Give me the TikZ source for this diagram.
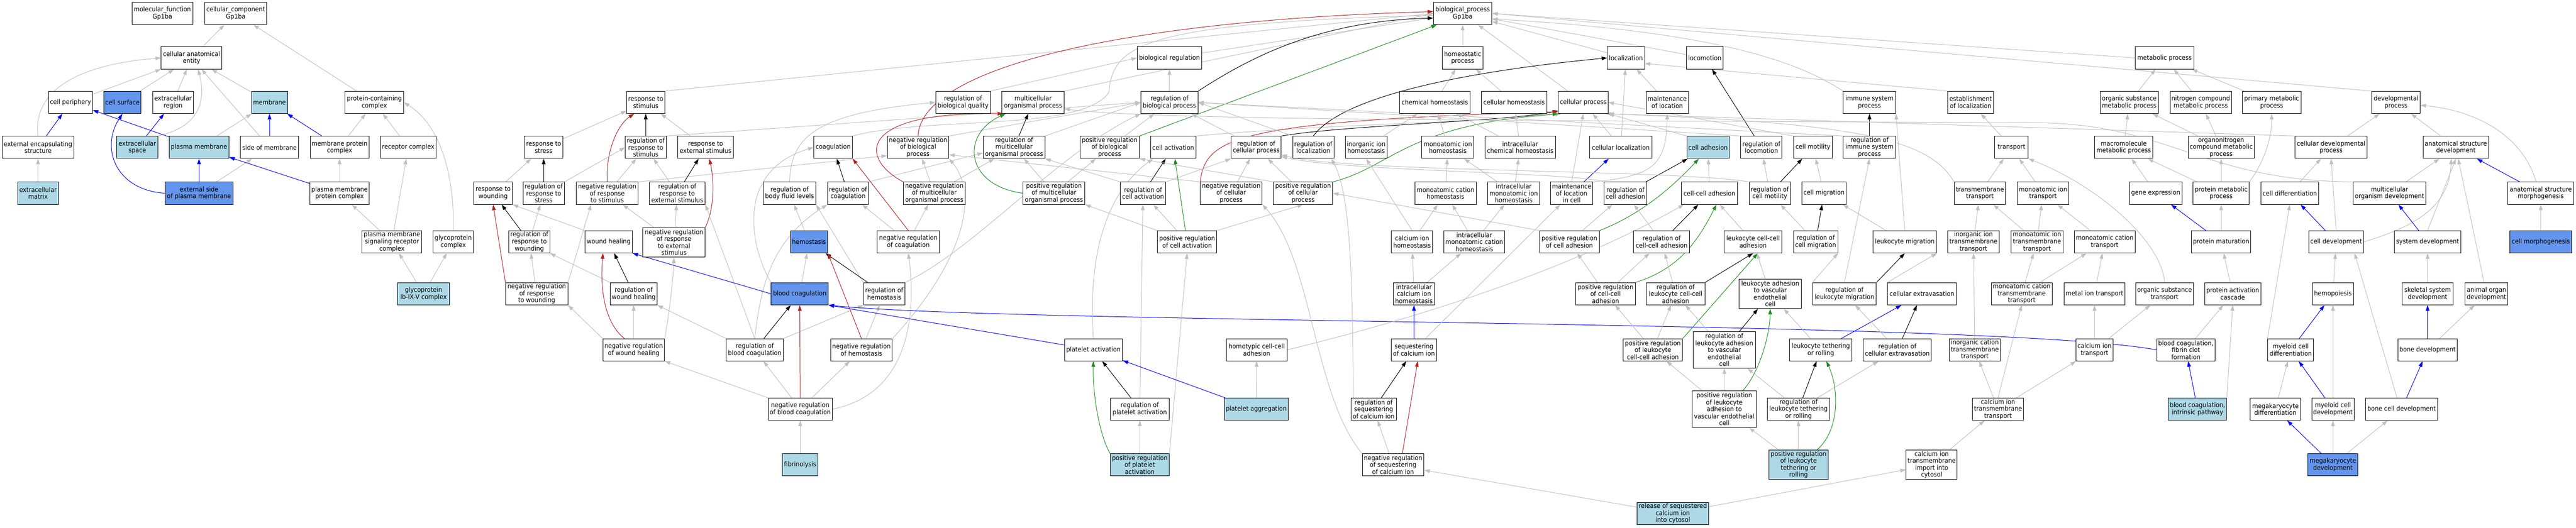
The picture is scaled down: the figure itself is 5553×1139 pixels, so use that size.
\documentclass[tikz,border=0pt]{standalone}
\usepackage{fontspec}
\setmainfont[FakeStretch=0.92]{DejaVu Sans}
\usetikzlibrary{arrows.meta}
\definecolor{edgegray}{RGB}{192,192,192}
\definecolor{edgeblue}{RGB}{0,0,255}
\definecolor{firebrick}{RGB}{178,34,34}
\definecolor{forestgreen}{RGB}{34,139,34}
\definecolor{lightblue}{RGB}{173,216,230}
\definecolor{cornflower}{RGB}{100,149,237}
\pgfdeclarelayer{bgfill}
\pgfdeclarelayer{edges}
\pgfsetlayers{bgfill,edges,main}
\tikzset{
  gw/.style={draw=black, line width=1.1pt, fill=white, align=center, inner xsep=3pt, inner ysep=1pt, minimum height=48pt, font=\fontsize{14}{15}\selectfont},
  gl/.style={gw, fill=lightblue},
  gd/.style={gw, fill=cornflower},
  hf/.style={minimum height=64pt},
  hv/.style={minimum height=79pt},
  arw/.style={-{Triangle[length=12pt,width=8pt]}, line width=1.1pt},
  egray/.style={arw, color=edgegray},
  eblue/.style={arw, color=edgeblue},
  eblack/.style={arw, color=black},
  ered/.style={arw, color=firebrick},
  egreen/.style={arw, color=forestgreen},
}
\newcommand{\gn}[6]{\node[#1,minimum width=#5pt] (#2) at (#3,#4) {#6};}
\newcommand{\ed}[3]{\draw[#1] (#2) -- (#3);}
\begin{document}
\begin{tikzpicture}[x=1pt,y=-1pt]
\useasboundingbox (0,0) rectangle (5553,1139);
\begin{pgfonlayer}{bgfill}
\fill[white] (0,0) rectangle (5553,1139);
\end{pgfonlayer}
% ---------- nodes: cellular component ----------
\gn{gw}{mf}{350}{29}{131}{molecular\_function\\Gp1ba}
\gn{gw}{cc}{508}{29}{134}{cellular\_component\\Gp1ba}
\gn{gw}{bp}{3153}{29}{126}{biological\_process\\Gp1ba}
\gn{gw}{cae}{413}{125}{131}{cellular anatomical\\entity}
\gn{gw}{cper}{152}{221}{95}{cell periphery}
\gn{gd}{csurf}{264}{221}{80}{cell surface}
\gn{gw}{exreg}{373}{221}{88}{extracellular\\region}
\gn{gl}{memb}{581}{221}{78}{membrane}
\gn{gw}{pcc}{807}{221}{126}{protein-containing\\complex}
\gn{gw}{ees}{82}{318}{155}{external encapsulating\\structure}
\gn{gl}{exsp}{296}{318}{88}{extracellular\\space}
\gn{gl}{pm}{429}{318}{129}{plasma membrane}
\gn{gw}{som}{581}{318}{126}{side of membrane}
\gn{gw}{mpc}{732}{318}{126}{membrane protein\\complex}
\gn{gw}{recc}{880}{318}{120}{receptor complex}
\gn{gl}{exm}{82}{417}{88}{extracellular\\matrix}
\gn{gd}{espm}{429}{417}{147}{external side\\of plasma membrane}
\gn{gw}{pmpc}{732}{417}{128}{plasma membrane\\protein complex}
\gn{gw}{pmsrc}{845}{522}{129}{plasma membrane\\signaling receptor\\complex}
\gn{gw}{gpc}{977}{522}{86}{glycoprotein\\complex}
\gn{gl}{gp1b}{913}{634}{112}{glycoprotein\\Ib-IX-V complex}
% ---------- response / coagulation ----------
\gn{gw}{rstim}{1392}{221}{82}{response to\\stimulus}
\gn{gw}{rstress}{1172}{318}{83}{response to\\stress}
\gn{gw}{rrs}{1392}{318}{88}{regulation of\\response to\\stimulus}
\gn{gw}{rext}{1521}{318}{120}{response to\\external stimulus}
\gn{gw}{coag}{1796}{318}{83}{coagulation}
\gn{gw}{rwound}{1063}{417}{83}{response to\\wounding}
\gn{gw}{rrstress}{1172}{417}{89}{regulation of\\response to\\stress}
\gn{gw}{nrrs}{1309}{417}{134}{negative regulation\\of response\\to stimulus}
\gn{gw}{rrext}{1460}{417}{120}{regulation of\\response to\\external stimulus}
\gn{gw}{rbfl}{1702}{417}{113}{regulation of\\body fluid levels}
\gn{gw}{rcoag}{1828}{417}{88}{regulation of\\coagulation}
\gn{gw}{rrw}{1141}{522}{88}{regulation of\\response to\\wounding}
\gn{gw}{wh}{1312}{522}{102}{wound healing}
\gn{gw,hf}{nrrext}{1453}{523}{134}{negative regulation\\of response\\to external\\stimulus}
\gn{gd}{hemo}{1744}{522}{80}{hemostasis}
\gn{gw}{nrrw}{1157}{634}{134}{negative regulation\\of response\\to wounding}
\gn{gw}{rwh}{1366}{634}{101}{regulation of\\wound healing}
\gn{gd}{bc}{1724}{634}{123}{blood coagulation}
\gn{gw}{rhemo}{1906}{634}{89}{regulation of\\hemostasis}
\gn{gw}{nrwh}{1366}{755}{133}{negative regulation\\of wound healing}
\gn{gw}{rbc}{1627}{755}{123}{regulation of\\blood coagulation}
\gn{gw}{nrhemo}{1857}{755}{133}{negative regulation\\of hemostasis}
\gn{gw}{nrbc}{1725}{883}{138}{negative regulation\\of blood coagulation}
\gn{gl}{fib}{1725}{1003}{77}{fibrinolysis}
% ---------- regulation ----------
\gn{gw}{breg}{2521}{125}{139}{biological regulation}
\gn{gw}{rbq}{2076}{221}{118}{regulation of\\biological quality}
\gn{gw}{mop}{2227}{221}{134}{multicellular\\organismal process}
\gn{gw}{rbp}{2521}{221}{123}{regulation of\\biological process}
\gn{gw}{nrbp}{1979}{318}{133}{negative regulation\\of biological\\process}
\gn{gw}{rmop}{2186}{318}{133}{regulation of\\multicellular\\organismal process}
\gn{gw}{prbp}{2392}{318}{128}{positive regulation\\of biological\\process}
\gn{gw}{cact}{2529}{318}{98}{cell activation}
\gn{gw}{rcp}{2708}{318}{108}{regulation of\\cellular process}
\gn{gw}{nrmop}{2014}{417}{133}{negative regulation\\of multicellular\\organismal process}
\gn{gw}{prmop}{2272}{417}{133}{positive regulation\\of multicellular\\organismal process}
\gn{gw}{rca}{2464}{417}{98}{regulation of\\cell activation}
\gn{gw}{nrcp}{2654}{417}{133}{negative regulation\\of cellular\\process}
\gn{gw}{prcp}{2809}{417}{128}{positive regulation\\of cellular\\process}
\gn{gw}{ncoag}{1958}{522}{135}{negative regulation\\of coagulation}
\gn{gw}{prca}{2559}{522}{128}{positive regulation\\of cell activation}
\gn{gw}{pact}{2357}{755}{125}{platelet activation}
\gn{gw}{hcca}{2709}{755}{131}{homotypic cell-cell\\adhesion}
\gn{gw}{rpa}{2457}{883}{126}{regulation of\\platelet activation}
\gn{gl}{pagg}{2708}{883}{138}{platelet aggregation}
\gn{gl}{prpa}{2457}{1003}{127}{positive regulation\\of platelet\\activation}
% ---------- homeostasis / localization / adhesion ----------
\gn{gw}{homeo}{3153}{125}{87}{homeostatic\\process}
\gn{gw}{loc}{3505}{125}{80}{localization}
\gn{gw}{locom}{3675}{125}{78}{locomotion}
\gn{gw}{chh}{3093}{221}{152}{chemical homeostasis}
\gn{gw}{celh}{3264}{221}{141}{cellular homeostasis}
\gn{gw}{cproc}{3413}{221}{107}{cellular process}
\gn{gw}{mol}{3594}{221}{91}{maintenance\\of location}
\gn{gw}{rloc}{2831}{318}{89}{regulation of\\localization}
\gn{gw}{iih}{2945}{318}{90}{inorganic ion\\homeostasis}
\gn{gw}{mih}{3121}{318}{112}{monoatomic ion\\homeostasis}
\gn{gw}{ich}{3277}{318}{152}{intracellular\\chemical homeostasis}
\gn{gw}{cloc}{3494}{318}{134}{cellular localization}
\gn{gl}{cadh}{3682}{318}{91}{cell adhesion}
\gn{gw}{mch}{3116}{417}{132}{monoatomic cation\\homeostasis}
\gn{gw}{imih}{3263}{417}{112}{intracellular\\monoatomic ion\\homeostasis}
\gn{gw}{mlic}{3388}{417}{90}{maintenance\\of location\\in cell}
\gn{gw}{rcadh}{3504}{417}{92}{regulation of\\cell adhesion}
\gn{gw}{cca}{3685}{417}{121}{cell-cell adhesion}
\gn{gw}{cah}{3044}{522}{89}{calcium ion\\homeostasis}
\gn{gw}{imch}{3178}{522}{132}{intracellular\\monoatomic cation\\homeostasis}
\gn{gw}{prcadh}{3383}{522}{129}{positive regulation\\of cell adhesion}
\gn{gw}{rcca}{3582}{522}{121}{regulation of\\cell-cell adhesion}
\gn{gw}{icah}{3048}{634}{89}{intracellular\\calcium ion\\homeostasis}
\gn{gw}{prcca}{3461}{634}{128}{positive regulation\\of cell-cell\\adhesion}
\gn{gw}{rlcca}{3612}{634}{126}{regulation of\\leukocyte cell-cell\\adhesion}
\gn{gw}{seq}{3048}{755}{98}{sequestering\\of calcium ion}
\gn{gw}{prlcca}{3563}{755}{128}{positive regulation\\of leukocyte\\cell-cell adhesion}
\gn{gw,hv}{rlavec}{3717}{755}{134}{regulation of\\leukocyte adhesion\\to vascular\\endothelial\\cell}
\gn{gw}{rsci}{2961}{883}{98}{regulation of\\sequestering\\of calcium ion}
\gn{gw,hv}{prlavec}{3717}{883}{139}{positive regulation\\of leukocyte\\adhesion to\\vascular endothelial\\cell}
\gn{gw}{nrsci}{3003}{1003}{133}{negative regulation\\of sequestering\\of calcium ion}
\gn{gl}{rscic}{3606}{1108}{155}{release of sequestered\\calcium ion\\into cytosol}
% ---------- immune / transport / metabolism ----------
\gn{gw}{metab}{4666}{125}{126}{metabolic process}
\gn{gw}{isp}{4030}{221}{113}{immune system\\process}
\gn{gw}{eloc}{4248}{221}{99}{establishment\\of localization}
\gn{gw}{osmp}{4590}{221}{126}{organic substance\\metabolic process}
\gn{gw}{rloco}{3797}{318}{89}{regulation of\\locomotion}
\gn{gw}{cmot}{3908}{318}{84}{cell motility}
\gn{gw}{risp}{4030}{318}{113}{regulation of\\immune system\\process}
\gn{gw}{transp}{4336}{318}{72}{transport}
\gn{gw}{mmp}{4578}{318}{125}{macromolecule\\metabolic process}
\gn{gw}{rcm}{3815}{417}{89}{regulation of\\cell motility}
\gn{gw}{cmig}{3932}{417}{96}{cell migration}
\gn{gw}{tmt}{4268}{417}{111}{transmembrane\\transport}
\gn{gw}{mit}{4404}{417}{112}{monoatomic ion\\transport}
\gn{gw}{gexp}{4647}{417}{113}{gene expression}
\gn{gw}{lcca}{3779}{522}{125}{leukocyte cell-cell\\adhesion}
\gn{gw}{rcmig}{3914}{522}{95}{regulation of\\cell migration}
\gn{gw}{lmig}{4106}{522}{137}{leukocyte migration}
\gn{gw}{iitt}{4254}{522}{111}{inorganic ion\\transmembrane\\transport}
\gn{gw}{mitt}{4391}{522}{112}{monoatomic ion\\transmembrane\\transport}
\gn{gw}{mct}{4537}{522}{131}{monoatomic cation\\transport}
\gn{gw,hf}{lavec}{3816}{634}{134}{leukocyte adhesion\\to vascular\\endothelial\\cell}
\gn{gw}{rlm}{3976}{634}{137}{regulation of\\leukocyte migration}
\gn{gw}{cext}{4143}{634}{148}{cellular extravasation}
\gn{gw}{mctt}{4358}{634}{131}{monoatomic cation\\transmembrane\\transport}
\gn{gw}{mitr}{4515}{634}{130}{metal ion transport}
\gn{gw}{ost}{4666}{634}{125}{organic substance\\transport}
\gn{gw}{ltr}{3925}{755}{134}{leukocyte tethering\\or rolling}
\gn{gw}{rce}{4090}{755}{147}{regulation of\\cellular extravasation}
\gn{gw}{icatt}{4257}{755}{110}{inorganic cation\\transmembrane\\transport}
\gn{gw}{cait}{4515}{755}{80}{calcium ion\\transport}
\gn{gw}{rltr}{3877}{883}{134}{regulation of\\leukocyte tethering\\or rolling}
\gn{gw}{catt}{4307}{883}{110}{calcium ion\\transmembrane\\transport}
\gn{gl,hf}{prltr}{3877}{1003}{128}{positive regulation\\of leukocyte\\tethering or\\rolling}
\gn{gw,hf}{citic}{4164}{1003}{110}{calcium ion\\transmembrane\\import into\\cytosol}
% ---------- development ----------
\gn{gw}{ncmp}{4744}{221}{132}{nitrogen compound\\metabolic process}
\gn{gw}{pmp}{4897}{221}{126}{primary metabolic\\process}
\gn{gw}{devp}{5165}{221}{104}{developmental\\process}
\gn{gw}{onmp}{4788}{318}{142}{organonitrogen\\compound metabolic\\process}
\gn{gw}{cdp}{5025}{318}{156}{cellular developmental\\process}
\gn{gw}{asd}{5294}{318}{141}{anatomical structure\\development}
\gn{gw}{protmp}{4788}{417}{121}{protein metabolic\\process}
\gn{gw}{cdiff}{4936}{417}{125}{cell differentiation}
\gn{gw}{mod}{5151}{417}{157}{multicellular\\organism development}
\gn{gw}{asm}{5477}{417}{142}{anatomical structure\\morphogenesis}
\gn{gw}{pmat}{4788}{522}{128}{protein maturation}
\gn{gw}{cdev}{5036}{522}{118}{cell development}
\gn{gw}{sysd}{5233}{522}{144}{system development}
\gn{gd}{cmorph}{5477}{522}{133}{cell morphogenesis}
\gn{gw}{pac}{4813}{634}{121}{protein activation\\cascade}
\gn{gw}{hemop}{5029}{634}{89}{hemopoiesis}
\gn{gw}{ssd}{5233}{634}{110}{skeletal system\\development}
\gn{gw}{aod}{5360}{634}{92}{animal organ\\development}
\gn{gw}{bcfcf}{4712}{755}{126}{blood coagulation,\\fibrin clot\\formation}
\gn{gw}{mcd}{4938}{755}{99}{myeloid cell\\differentiation}
\gn{gw}{bdev}{5233}{755}{128}{bone development}
\gn{gl}{bcip}{4737}{883}{125}{blood coagulation,\\intrinsic pathway}
\gn{gw}{mkd}{4905}{883}{108}{megakaryocyte\\differentiation}
\gn{gw}{mcdev}{5029}{883}{91}{myeloid cell\\development}
\gn{gw}{bcd}{5177}{883}{155}{bone cell development}
\gn{gd}{mkdev}{5029}{1003}{108}{megakaryocyte\\development}

\begin{pgfonlayer}{edges}
% ---- cellular component ----
\ed{egray}{cae}{cc}
\ed{egray}{pcc}{cc}
\ed{egray}{cper}{cae}
\ed{egray}{csurf}{cae}
\ed{egray}{exreg}{cae}
\ed{egray}{memb}{cae}
\draw[egray] (ees.north) .. controls (70,200) and (160,140) .. (cae.west);
\draw[egray] (exsp.north east) .. controls (445,270) and (440,200) .. ([xshift=14pt]cae.south);
\ed{egray}{som}{cae}
\ed{eblue}{ees}{cper}
\ed{eblue}{exsp}{exreg}
\ed{eblue}{pm}{cper}
\ed{egray}{pm}{memb}
\ed{eblue}{som}{memb}
\ed{eblue}{mpc}{memb}
\ed{egray}{mpc}{pcc}
\ed{egray}{recc}{pcc}
\ed{egray}{exm}{ees}
\draw[eblue] (espm.west) .. controls (250,410) and (215,320) .. (csurf.south);
\ed{eblue}{espm}{pm}
\ed{egray}{espm}{som}
\ed{eblue}{pmpc}{pm}
\ed{egray}{pmpc}{mpc}
\ed{egray}{pmsrc}{pmpc}
\ed{egray}{pmsrc}{recc}
\ed{egray}{gp1b}{pmsrc}
\ed{egray}{gp1b}{gpc}
\draw[egray] (gpc.north) .. controls (980,380) and (950,270) .. (pcc.east);
% ---- top of biological process ----
\ed{egray}{breg}{bp}
\ed{egray}{homeo}{bp}
\ed{egray}{loc}{bp}
\ed{egray}{locom}{bp}
\ed{egray}{metab.west}{bp.east}
\ed{egray}{rstim.north east}{bp.west}
\ed{egray}{mop.north east}{bp.west}
\ed{egray}{cproc}{bp}
\ed{egray}{devp.north west}{bp.east}
\draw[egray] (isp.north west) .. controls (3900,150) and (3750,70) .. ([yshift=-12pt]bp.east);
\draw[egray] (coag.north east) .. controls (2000,250) and (2330,285) .. (2390,200) .. controls (2400,100) and (2450,50) .. ([yshift=-4pt]bp.west);
\draw[eblack] (rbp.north east) .. controls (2700,120) and (2850,45) .. ([yshift=-10pt]bp.west);
\ed{egreen}{prbp.north east}{[xshift=8pt]bp.south west}
\draw[ered] (nrbp.north) .. controls (1985,150) and (2400,45) .. ([yshift=4pt]bp.west);
% ---- response / wound / coagulation ----
\ed{egray}{rstress}{rstim}
\ed{eblack}{rrs}{rstim}
\draw[ered] (nrrs.north) .. controls (1305,330) and (1330,270) .. ([xshift=-25pt]rstim.south);
\ed{egray}{rext}{rstim}
\ed{egray}{rrs.north east}{rbp.west}
\ed{egray}{rwound}{rstress}
\ed{eblack}{rrstress}{rstress}
\ed{egray}{rrstress.north east}{rrs.west}
\ed{egray}{nrrs}{rrs}
\ed{egray}{nrrs.north east}{[yshift=-18pt]nrbp.west}
\ed{egray}{rrext}{rrs}
\ed{eblack}{rrext}{rext}
\ed{egray}{nrrext}{rrext}
\ed{egray}{nrrext}{nrrs}
\draw[ered] (nrrext.north east) .. controls (1540,450) and (1540,390) .. ([xshift=8pt]rext.south);
\ed{eblack}{rrw}{rwound}
\ed{egray}{rrw}{rrstress}
\ed{egray}{wh.north west}{rwound.south east}
\ed{ered}{nrrw.north west}{rwound.south}
\ed{egray}{nrrw}{rrw}
\ed{egray}{nrrw.north east}{[xshift=-35pt]nrrs.south}
\ed{egray}{rwh.north west}{rrw.south east}
\ed{eblack}{rwh}{wh}
\ed{egray}{nrwh}{rwh}
\ed{egray}{nrwh.north west}{nrrw.south east}
\draw[egray] (nrwh.north east) .. controls (1440,690) and (1450,620) .. (nrrext.south);
\draw[ered] ([xshift=-20pt]nrwh.north) .. controls (1295,690) and (1295,600) .. ([xshift=-12pt]wh.south);
\ed{egray}{hemo}{rbfl}
\ed{egray}{bc}{hemo}
\draw[egray] (bc.north west) .. controls (1620,540) and (1580,370) .. (coag.west);
\draw[egray] (rbfl.north) .. controls (1705,300) and (1750,245) .. (rbq.west);
\draw[egray] (rbc.north) .. controls (1640,620) and (1660,520) .. (rcoag.south west);
\ed{egray}{rbc.north east}{rhemo.south west}
\ed{egray}{rbc.north west}{rwh.south east}
\ed{egray}{rbc.north}{rrext.south east}
\ed{eblack}{rbc}{bc}
\ed{egray}{nrbc}{rbc}
\ed{egray}{nrbc}{nrhemo}
\ed{egray}{nrbc.north west}{nrwh.south east}
\draw[egray] (nrbc.east) .. controls (1960,850) and (1975,680) .. (ncoag.south);
\ed{ered}{nrbc.north}{bc.south}
\ed{egray}{fib}{nrbc}
\ed{egray}{rhemo.north west}{rbfl.south east}
\draw[egray] (rhemo.north east) .. controls (2100,540) and (2280,330) .. (rbp.south west);
\ed{eblack}{rhemo}{hemo}
\ed{egray}{nrhemo}{rhemo}
\ed{ered}{nrhemo.north}{hemo.south east}
\draw[egray] (nrhemo.north east) .. controls (2080,560) and (2110,420) .. (nrbp.south east);
\ed{eblack}{rcoag}{coag}
\ed{egray}{rcoag.north east}{[yshift=-12pt]rmop.west}
\ed{egray}{ncoag}{rcoag}
\ed{egray}{ncoag}{nrmop}
\ed{ered}{ncoag.north}{coag.south east}
\ed{eblue}{bc.west}{wh.south east}
\ed{eblue}{pact}{bc.south east}
\draw[eblue] (bcfcf.west) .. controls (4300,690) and (2200,700) .. (bc.south east);
% ---- regulation block ----
\ed{egray}{rbq.north east}{breg.west}
\ed{egray}{rbp}{breg}
\ed{egray}{nrbp.north east}{rbp.west}
\ed{egray}{rmop.north east}{rbp.west}
\ed{egray}{prbp}{rbp}
\ed{egray}{rcp}{rbp}
\ed{eblack}{rmop}{mop}
\draw[ered] (nrmop.north west) .. controls (1850,340) and (1850,240) .. ([xshift=3pt]mop.south west);
\draw[egreen] (prmop.west) .. controls (2080,400) and (2070,290) .. ([xshift=8pt]mop.south west);
\ed{egray}{nrmop}{nrbp}
\ed{egray}{nrmop}{rmop}
\ed{egray}{prmop}{rmop}
\ed{egray}{prmop}{prbp}
\draw[egray] (cact.north east) .. controls (2900,265) and (3200,265) .. ([xshift=6pt]cproc.south west);
\draw[eblack] (rcp.north east) .. controls (2900,270) and (3250,262) .. ([yshift=-18pt]cproc.west);
\draw[ered] (nrcp.north west) .. controls (2600,300) and (2650,262) .. ([yshift=-20pt]cproc.west);
\draw[egreen] (prcp.north east) .. controls (3000,360) and (3030,270) .. (cproc.south west);
\ed{egray}{rca.north east}{rcp.south west}
\ed{eblack}{rca}{cact}
\ed{egray}{rca.north west}{rmop.south east}
\ed{egray}{nrcp.north west}{[yshift=-16pt]nrbp.east}
\ed{egray}{nrcp}{rcp}
\ed{egray}{prcp.north west}{prbp.south east}
\ed{egray}{prcp}{rcp}
\ed{egray}{prca}{rca}
\ed{egray}{prca.north east}{prcp.south}
\ed{egreen}{prca}{cact}
\ed{egray}{prca.north west}{prmop.south east}
\draw[egray] (pact.north) .. controls (2345,560) and (2380,420) .. ([xshift=6pt]cact.south west);
\ed{egray}{rpa}{rca}
\ed{eblack}{rpa}{pact}
\ed{egray}{prpa}{rpa}
\draw[egreen] (prpa.north west) .. controls (2370,940) and (2355,850) .. (pact.south);
\ed{egray}{prpa.north east}{prca.south}
\ed{eblue}{pagg}{pact}
\ed{egray}{pagg}{hcca}
\draw[egray] (hcca.east) .. controls (3000,700) and (3350,600) .. ([xshift=6pt]cca.south west);
% ---- homeostasis / localization / adhesion ----
\ed{egray}{chh}{homeo}
\ed{egray}{celh}{homeo}
\draw[eblack] (rloc.north) .. controls (2900,200) and (3200,150) .. (loc.west);
\ed{egray}{rloc.north west}{rbp.east}
\ed{egray}{iih}{chh}
\ed{egray}{mih}{chh}
\ed{egray}{ich}{chh}
\ed{egray}{ich}{celh}
\ed{egray}{cloc}{cproc}
\ed{egray}{cloc}{loc}
\ed{egray}{mol}{loc}
\draw[egray] (mlic.north east) .. controls (3560,380) and (3592,360) .. (mol.south);
\ed{egray}{mlic.north}{cproc.south}
\ed{eblue}{mlic}{cloc}
\ed{egray}{cadh.north west}{cproc.south east}
\draw[egray] (rcadh.north west) .. controls (3400,372) and (2900,370) .. ([yshift=-20pt]rcp.east);
\ed{eblack}{rcadh}{cadh}
\ed{egray}{prcadh}{rcadh}
\draw[egreen] (prcadh.north east) .. controls (3520,470) and (3590,420) .. ([xshift=-20pt]cadh.south);
\ed{egray}{prcadh.north west}{prcp.east}
\ed{egray}{cca}{cadh}
\ed{egray}{rcca}{rcadh}
\ed{eblack}{rcca}{cca}
\ed{egray}{mch}{mih}
\ed{egray}{imih}{mih}
\ed{egray}{imih}{ich}
\ed{egray}{cah}{mch}
\ed{egray}{cah.north}{iih.south}
\ed{egray}{imch}{mch}
\ed{egray}{imch}{imih}
\ed{egray}{icah}{cah}
\ed{egray}{icah}{imch}
\ed{eblue}{seq}{icah}
\ed{egray}{seq}{mlic}
\draw[egray] ([xshift=6pt]rsci.north west) .. controls (2915,600) and (2912,420) .. ([xshift=-6pt]rloc.south east);
\ed{eblack}{rsci}{seq}
\ed{egray}{nrsci}{rsci}
\ed{ered}{[xshift=20pt]nrsci.north}{[xshift=8pt]seq.south}
\draw[egray] (nrsci.north west) .. controls (2830,850) and (2830,560) .. (nrcp.south east);
\ed{egray}{rscic}{nrsci}
\ed{egray}{rscic}{citic}
\ed{egray}{prcca}{prcadh}
\ed{egray}{prcca}{rcca}
\draw[egreen] (prcca.north east) .. controls (3620,580) and (3660,520) .. ([xshift=15pt]cca.south);
\ed{egray}{rlcca}{rcca}
\ed{eblack}{rlcca.north east}{lcca.south}
\ed{egray}{prlcca}{prcca}
\ed{egray}{prlcca}{rlcca}
\ed{egreen}{prlcca.north east}{[xshift=10pt]lcca.south}
\ed{egray}{rlavec}{rlcca}
\ed{eblack}{rlavec}{lavec}
\ed{egray}{prlavec}{rlavec}
\draw[egreen] ([xshift=40pt]prlavec.north) .. controls (3795,800) and (3815,720) .. (lavec.south);
\ed{egray}{prlavec}{prlcca}
\ed{egray}{lcca}{cca}
\ed{egray}{lavec}{lcca}
% ---- immune / transport / metabolism ----
\ed{egray}{eloc.north west}{[yshift=-12pt]loc.east}
\ed{eblack}{rloco}{locom}
\ed{egray}{rloco.north west}{rbp.east}
\ed{egray}{cmot.north west}{cproc.east}
\ed{eblack}{risp}{isp}
\ed{egray}{risp.north west}{rbp.east}
\ed{egray}{rcm}{rloco}
\ed{eblack}{rcm}{cmot}
\draw[egray] (rcm.north west) .. controls (3600,365) and (2900,372) .. ([yshift=-16pt]rcp.east);
\ed{egray}{cmig}{cmot}
\ed{egray}{rcmig}{rcm}
\ed{eblack}{rcmig}{cmig}
\ed{egray}{lmig}{cmig}
\ed{egray}{lmig.north}{isp.south east}
\ed{egray}{transp}{eloc}
\ed{egray}{tmt}{transp}
\draw[egray] (tmt.north west) .. controls (4160,300) and (4000,265) .. ([xshift=-6pt]cproc.south east);
\ed{egray}{mit}{transp}
\ed{egray}{iitt}{tmt}
\ed{egray}{mitt}{tmt}
\ed{egray}{mitt}{mit}
\ed{egray}{mct}{mit}
\ed{egray}{osmp}{metab}
\ed{egray}{mmp}{osmp}
\ed{egray}{gexp}{mmp}
\draw[egray] (ost.north) .. controls (4660,520) and (4520,400) .. (transp.south east);
\ed{egray}{rlm.north west}{rcmig.south east}
\ed{egray}{rlm.north}{risp.south}
\ed{eblack}{rlm.north east}{lmig.south}
\ed{egray}{cext.north west}{lmig.south east}
\ed{eblue}{ltr}{cext}
\ed{egray}{ltr}{lavec}
\ed{egray}{rce}{rlm}
\ed{eblack}{rce}{cext}
\ed{eblack}{rltr}{ltr}
\ed{egray}{rltr}{rce}
\ed{egray}{rltr}{rlavec}
\ed{egray}{prltr}{rltr}
\ed{egray}{prltr}{prlavec}
\draw[egreen] ([xshift=40pt]prltr.north) .. controls (3965,930) and (3965,840) .. ([xshift=12pt]ltr.south);
\ed{egray}{mctt}{mitt}
\ed{egray}{mctt}{mct}
\ed{egray}{mitr}{mct}
\ed{egray}{icatt}{iitt}
\ed{egray}{cait}{mitr}
\ed{egray}{cait}{ost}
\ed{egray}{catt}{icatt}
\ed{egray}{catt.north}{mctt.south}
\ed{egray}{catt}{cait}
\ed{egray}{citic}{catt}
% ---- development ----
\ed{egray}{ncmp}{metab}
\ed{egray}{pmp}{metab}
\ed{egray}{onmp}{ncmp}
\ed{egray}{onmp}{osmp}
\ed{egray}{protmp}{onmp}
\ed{egray}{protmp}{mmp}
\draw[egray] (protmp.north east) .. controls (4880,350) and (4897,300) .. (pmp.south);
\ed{egray}{pmat}{protmp}
\ed{eblue}{pmat}{gexp}
\ed{egray}{cdp}{devp}
\ed{egray}{cdp.north west}{cproc.south east}
\ed{egray}{asd}{devp}
\ed{egray}{cdiff}{cdp}
\ed{egray}{mod}{asd}
\draw[egray] (mod.north west) .. controls (4750,390) and (4680,270) .. (4400,265) .. controls (3500,260) and (2500,262) .. ([yshift=-14pt]mop.east);
\ed{eblue}{asm}{asd}
\draw[egray] ([xshift=-10pt]asm.north) .. controls (5440,300) and (5350,240) .. ([yshift=-6pt]devp.east);
\ed{eblue}{cdev}{cdiff}
\ed{egray}{cdev.north}{cdp.south}
\draw[egray] (cdev.east) .. controls (5200,490) and (5280,450) .. ([xshift=-10pt]asd.south);
\ed{eblue}{sysd}{mod}
\ed{egray}{sysd.north}{asd.south}
\ed{egray}{cmorph}{asm}
\ed{egray}{pac}{pmat}
\ed{egray}{hemop}{cdev}
\ed{egray}{mcd.north west}{cdiff.south}
\ed{eblue}{mcd}{hemop}
\ed{egray}{ssd}{sysd}
\ed{egray}{aod}{asd}
\ed{eblue}{bdev}{ssd}
\ed{egray}{bdev}{aod}
\ed{egray}{bcfcf}{pac}
\ed{eblue}{bcip}{bcfcf}
\ed{egray}{bcip.north east}{pac.south}
\ed{egray}{mkd}{mcd}
\ed{eblue}{mcdev}{mcd}
\ed{egray}{mcdev}{hemop}
\ed{eblue}{bcd}{bdev}
\ed{egray}{[xshift=-10pt]bcd.north}{[xshift=-20pt]cdev.south east}
\ed{eblue}{mkdev}{mkd}
\ed{egray}{mkdev}{mcdev}
\ed{egray}{mkdev}{bcd}
\end{pgfonlayer}
\end{tikzpicture}
\end{document}
